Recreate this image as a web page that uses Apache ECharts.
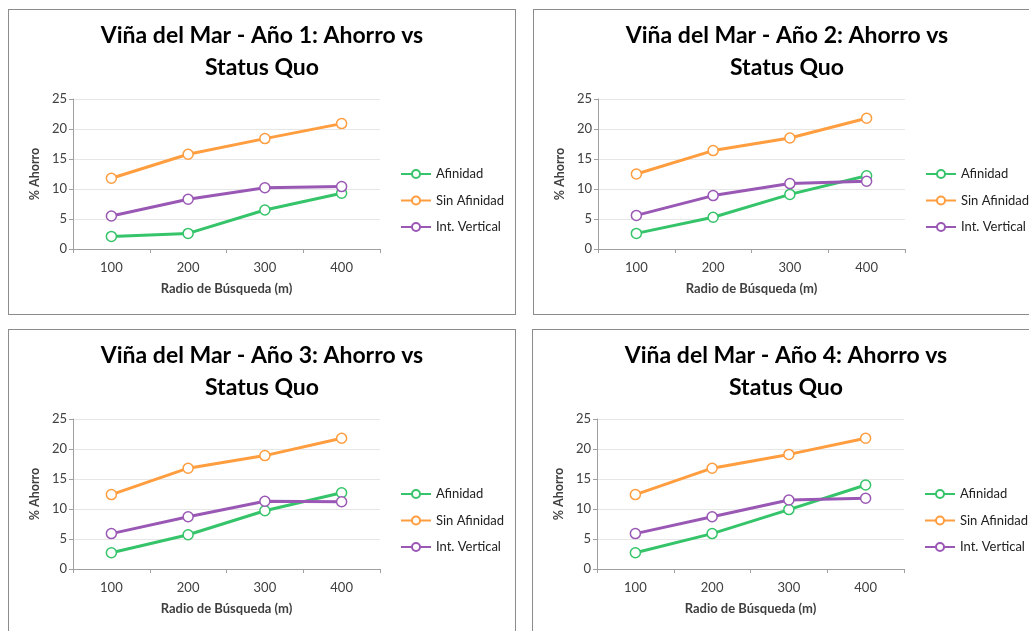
<!DOCTYPE html>
<html>
<head>
<meta charset="utf-8">
<script src="https://cdn.jsdelivr.net/npm/echarts@6/dist/echarts.min.js"></script>
<style>
html,body{margin:0;padding:0;width:1029px;height:631px;overflow:hidden;background:#fff;}
.panel{position:absolute;border:1px solid #8c8c8c;background:#fff;box-sizing:border-box;}
</style>
</head>
<body>
<div class="panel" id="p1" style="left:8px;top:9px;width:508px;height:306px;"></div>
<div class="panel" id="p2" style="left:533px;top:9px;width:508px;height:306px;"></div>
<div class="panel" id="p3" style="left:8px;top:329px;width:508px;height:306px;"></div>
<div class="panel" id="p4" style="left:532px;top:329px;width:508px;height:306px;"></div>
<script>
const categories = ['100', '200', '300', '400'];
const seriesNames = ['Afinidad', 'Sin Afinidad', 'Int. Vertical'];
const titles = [
  'Viña del Mar - Año 1: Ahorro vs\nStatus Quo',
  'Viña del Mar - Año 2: Ahorro vs\nStatus Quo',
  'Viña del Mar - Año 3: Ahorro vs\nStatus Quo',
  'Viña del Mar - Año 4: Ahorro vs\nStatus Quo'
];
const xAxisName = 'Radio de Búsqueda (m)';
const yAxisName = '% Ahorro';
const yTicks = [0, 5, 10, 15, 20, 25];

// Año 1
const afinidad1 = [2.1, 2.6, 6.5, 9.3];
const sinAfinidad1 = [11.8, 15.8, 18.4, 20.9];
const intVertical1 = [5.5, 8.3, 10.2, 10.4];
// Año 2
const afinidad2 = [2.6, 5.3, 9.1, 12.2];
const sinAfinidad2 = [12.5, 16.4, 18.5, 21.8];
const intVertical2 = [5.6, 8.9, 10.9, 11.3];
// Año 3
const afinidad3 = [2.7, 5.7, 9.7, 12.7];
const sinAfinidad3 = [12.4, 16.8, 18.9, 21.8];
const intVertical3 = [5.9, 8.7, 11.3, 11.2];
// Año 4
const afinidad4 = [2.7, 5.9, 9.9, 14.0];
const sinAfinidad4 = [12.4, 16.8, 19.1, 21.8];
const intVertical4 = [5.9, 8.7, 11.5, 11.8];

const colors = ['#35c46a', '#ff9d3f', '#9a58b5'];
const FONT = 'Lato, "Open Sans", sans-serif';

function build(id, title, data) {
  const chart = echarts.init(document.getElementById(id), null, {renderer: 'canvas'});
  chart.setOption({
    animation: false,
    textStyle: {fontFamily: FONT},
    title: {
      text: title,
      left: 'center',
      top: 5,
      padding: [5, 5, 5, 5],
      textStyle: {fontFamily: FONT, fontSize: 23, fontWeight: 'bold', color: '#000', lineHeight: 32}
    },
    legend: {
      orient: 'vertical',
      left: 391,
      top: 157,
      padding: 0,
      itemWidth: 30,
      itemHeight: 10,
      itemGap: 12.5,
      textStyle: {fontFamily: FONT, fontSize: 13, color: '#222', lineHeight: 14},
      data: seriesNames
    },
    grid: {left: 64, top: 89, width: 307, height: 150, containLabel: false},
    xAxis: {
      type: 'category',
      data: categories,
      boundaryGap: true,
      name: xAxisName,
      nameLocation: 'middle',
      nameGap: 33,
      nameTextStyle: {fontFamily: FONT, fontSize: 13, fontWeight: 'bold', color: '#404040'},
      axisLine: {lineStyle: {color: '#a0a0a0', width: 1}},
      axisTick: {show: true, length: 4, lineStyle: {color: '#a0a0a0'}},
      axisLabel: {fontFamily: FONT, fontSize: 13, color: '#404040', margin: 12},
      splitLine: {show: false}
    },
    yAxis: {
      type: 'value',
      min: yTicks[0],
      max: yTicks[yTicks.length - 1],
      interval: 5,
      name: yAxisName,
      nameLocation: 'middle',
      nameGap: 31,
      nameRotate: 90,
      nameTextStyle: {fontFamily: FONT, fontSize: 12.5, fontWeight: 'bold', color: '#404040'},
      axisLine: {show: true, lineStyle: {color: '#a0a0a0', width: 1}},
      axisTick: {show: true, length: 4, lineStyle: {color: '#a0a0a0'}},
      axisLabel: {fontFamily: FONT, fontSize: 13, color: '#404040', margin: 6},
      splitLine: {show: true, lineStyle: {color: '#e6e6e6', width: 1}}
    },
    series: data.map((d, i) => ({
      name: seriesNames[i],
      type: 'line',
      data: d,
      color: colors[i],
      symbol: 'circle',
      symbolSize: 10,
      showAllSymbol: true,
      lineStyle: {width: 3, color: colors[i]},
      itemStyle: {color: '#fff', borderColor: colors[i], borderWidth: 1.5}
    }))
  });
}

build('p1', titles[0], [afinidad1, sinAfinidad1, intVertical1]);
build('p2', titles[1], [afinidad2, sinAfinidad2, intVertical2]);
build('p3', titles[2], [afinidad3, sinAfinidad3, intVertical3]);
build('p4', titles[3], [afinidad4, sinAfinidad4, intVertical4]);
</script>
</body>
</html>
